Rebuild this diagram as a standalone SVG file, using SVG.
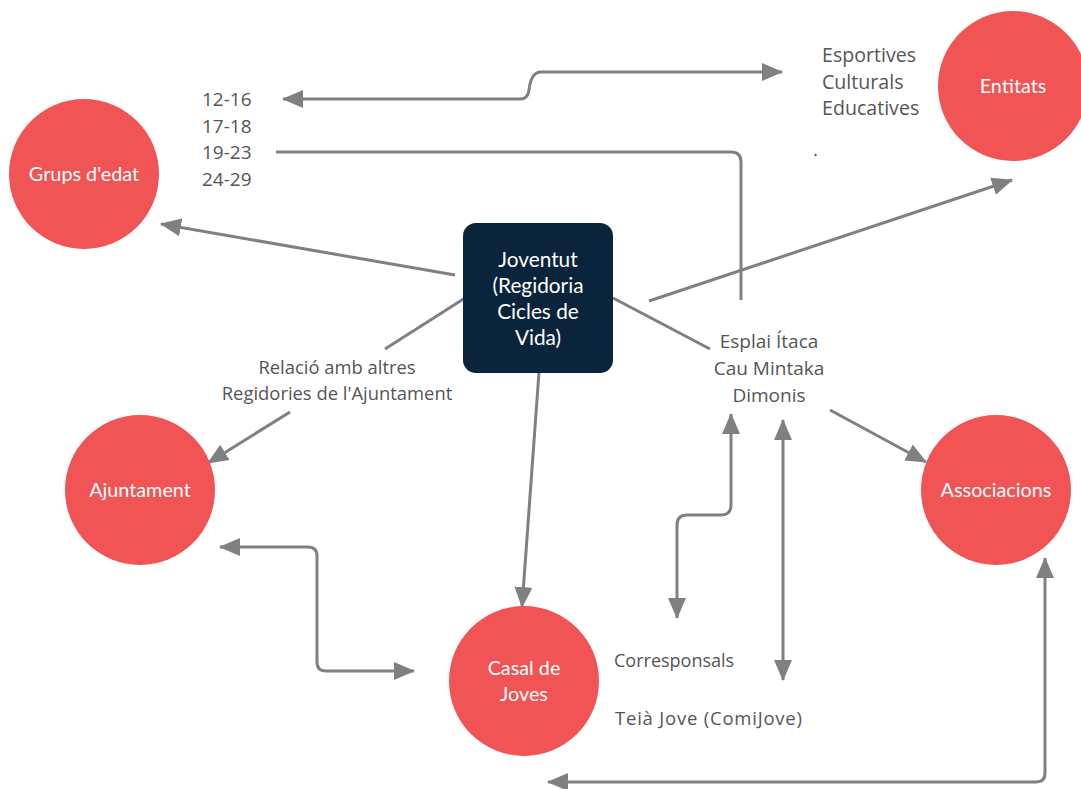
<svg xmlns="http://www.w3.org/2000/svg" width="1081" height="789" viewBox="0 0 1081 789">
<defs>
<style>
.circ{fill:#f05454}
.box{fill:#0a243b}
.nl{font-family:Lato,"Open Sans",sans-serif;font-size:19.8px;fill:#ffffff;text-anchor:middle}
.jv{font-size:20.8px}
.lb{font-family:"Open Sans","Noto Sans",sans-serif;font-size:19px;fill:#555555}
.c{fill:none;stroke:#808080;stroke-width:3}
</style>
<marker id="ah" markerUnits="userSpaceOnUse" markerWidth="22" markerHeight="20" viewBox="0 0 22 20" refX="20" refY="10" orient="auto-start-reverse">
<path d="M0,1 L21,10 L0,19 Z" fill="#808080"/>
</marker>
</defs>
<rect width="1081" height="789" fill="#ffffff"/>

<g id="connectors">
<line class="c" x1="455" y1="275" x2="161" y2="224" marker-end="url(#ah)"/>
<line class="c" x1="465" y1="298" x2="385" y2="349"/>
<line class="c" x1="290" y1="412" x2="208" y2="463" marker-end="url(#ah)"/>
<line class="c" x1="539" y1="372" x2="522" y2="607" marker-end="url(#ah)"/>
<line class="c" x1="613" y1="298" x2="710" y2="349"/>
<line class="c" x1="649" y1="301" x2="1012" y2="180" marker-end="url(#ah)"/>
<path class="c" d="M276,152 H731 Q741,152 741,162 V300"/>
<path class="c" d="M283,99 H520 Q528,99 529,90 Q531,72 541,72 H782" marker-start="url(#ah)" marker-end="url(#ah)"/>
<line class="c" x1="830" y1="410" x2="926" y2="462" marker-end="url(#ah)"/>
<path class="c" d="M731,414 V505 Q731,515 721,515 H687 Q677,515 677,525 V618" marker-start="url(#ah)" marker-end="url(#ah)"/>
<path class="c" d="M783,420 V680" marker-start="url(#ah)" marker-end="url(#ah)"/>
<path class="c" d="M220,547 H308 Q317,547 317,556 V662 Q317,671 326,671 H414" marker-start="url(#ah)" marker-end="url(#ah)"/>
<path class="c" d="M548,782 H1036 Q1045,782 1045,773 V558" marker-start="url(#ah)" marker-end="url(#ah)"/>
</g>

<g id="grups">
<circle class="circ" cx="84" cy="174" r="75"/>
<text class="nl" x="84" y="181">Grups d'edat</text>
</g>
<g id="entitats">
<circle class="circ" cx="1013" cy="86" r="75"/>
<text class="nl" x="1013" y="93">Entitats</text>
</g>
<g id="ajuntament">
<circle class="circ" cx="140" cy="490" r="75"/>
<text class="nl" x="140" y="497">Ajuntament</text>
</g>
<g id="associacions">
<circle class="circ" cx="996" cy="490" r="75"/>
<text class="nl" x="996" y="497">Associacions</text>
</g>
<g id="casal">
<circle class="circ" cx="524" cy="681" r="75"/>
<text class="nl" x="524" y="675">Casal de</text>
<text class="nl" x="524" y="701">Joves</text>
</g>
<g id="joventut">
<rect class="box" x="463" y="223" width="150" height="150" rx="13"/>
<text class="nl jv" x="538" y="267">Joventut</text>
<text class="nl jv" x="538" y="293">(Regidoria</text>
<text class="nl jv" x="538" y="319">Cicles de</text>
<text class="nl jv" x="538" y="345">Vida)</text>
</g>

<g id="edats">
<text class="lb" x="202" y="106">12-16</text>
<text class="lb" x="202" y="133">17-18</text>
<text class="lb" x="202" y="159">19-23</text>
<text class="lb" x="202" y="186">24-29</text>
</g>
<g id="tipus-entitats">
<text class="lb" x="822" y="62" style="font-size:19.6px">Esportives</text>
<text class="lb" x="822" y="89" style="font-size:19.6px">Culturals</text>
<text class="lb" x="822" y="115" style="font-size:19.6px">Educatives</text>
<text class="lb" x="813" y="156">.</text>
</g>
<g id="esplais">
<text class="lb" x="769" y="348" text-anchor="middle">Esplai Ítaca</text>
<text class="lb" x="769" y="375" text-anchor="middle">Cau Mintaka</text>
<text class="lb" x="769" y="402" text-anchor="middle">Dimonis</text>
</g>
<g id="relacio">
<text class="lb" x="337" y="374" text-anchor="middle" style="font-size:18.4px">Relació amb altres</text>
<text class="lb" x="337" y="400" text-anchor="middle" style="font-size:18.4px">Regidories de l'Ajuntament</text>
</g>
<g id="corresponsals">
<text class="lb" x="614" y="667" style="font-size:18px">Corresponsals</text>
</g>
<g id="teia">
<text class="lb" x="615" y="725" style="font-size:18.5px" textLength="187" lengthAdjust="spacing">Teià Jove (ComiJove)</text>
</g>
</svg>
